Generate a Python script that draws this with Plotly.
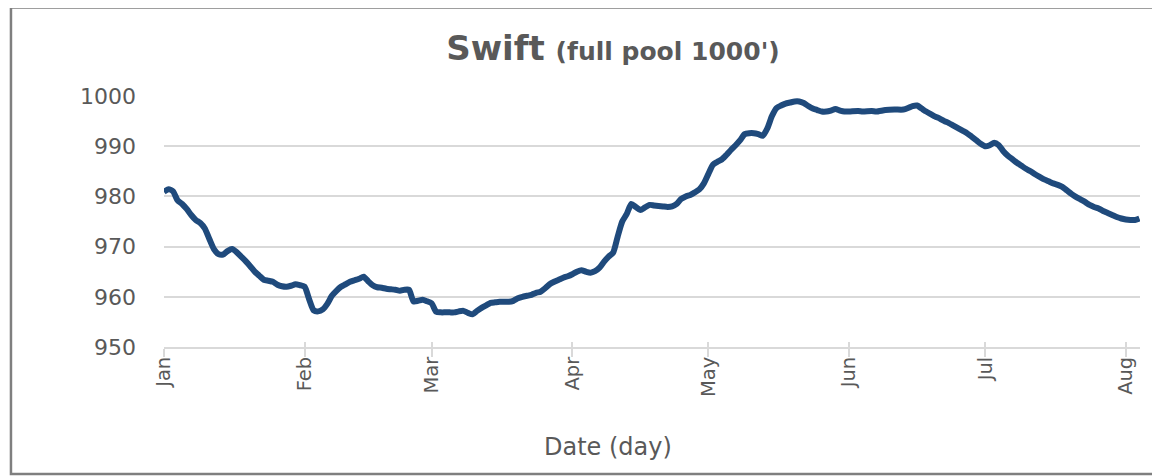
import plotly.graph_objects as go

# ---- data ----
dates = [
    "2023-01-01", "2023-01-02", "2023-01-03", "2023-01-04", "2023-01-05", "2023-01-06",
    "2023-01-07", "2023-01-08", "2023-01-09", "2023-01-10", "2023-01-11", "2023-01-12",
    "2023-01-13", "2023-01-14", "2023-01-15", "2023-01-16", "2023-01-17", "2023-01-18",
    "2023-01-19", "2023-01-20", "2023-01-21", "2023-01-22", "2023-01-23", "2023-01-24",
    "2023-01-25", "2023-01-26", "2023-01-27", "2023-01-28", "2023-01-29", "2023-01-30",
    "2023-01-31", "2023-02-01", "2023-02-02", "2023-02-03", "2023-02-04", "2023-02-05",
    "2023-02-06", "2023-02-07", "2023-02-08", "2023-02-09", "2023-02-10", "2023-02-11",
    "2023-02-12", "2023-02-13", "2023-02-14", "2023-02-15", "2023-02-16", "2023-02-17",
    "2023-02-18", "2023-02-19", "2023-02-20", "2023-02-21", "2023-02-22", "2023-02-23",
    "2023-02-24", "2023-02-25", "2023-02-26", "2023-02-27", "2023-02-28", "2023-03-01",
    "2023-03-02", "2023-03-03", "2023-03-04", "2023-03-05", "2023-03-06", "2023-03-07",
    "2023-03-08", "2023-03-09", "2023-03-10", "2023-03-11", "2023-03-12", "2023-03-13",
    "2023-03-14", "2023-03-15", "2023-03-16", "2023-03-17", "2023-03-18", "2023-03-19",
    "2023-03-20", "2023-03-21", "2023-03-22", "2023-03-23", "2023-03-24", "2023-03-25",
    "2023-03-26", "2023-03-27", "2023-03-28", "2023-03-29", "2023-03-30", "2023-03-31",
    "2023-04-01", "2023-04-02", "2023-04-03", "2023-04-04", "2023-04-05", "2023-04-06",
    "2023-04-07", "2023-04-08", "2023-04-09", "2023-04-10", "2023-04-11", "2023-04-12",
    "2023-04-13", "2023-04-14", "2023-04-15", "2023-04-16", "2023-04-17", "2023-04-18",
    "2023-04-19", "2023-04-20", "2023-04-21", "2023-04-22", "2023-04-23", "2023-04-24",
    "2023-04-25", "2023-04-26", "2023-04-27", "2023-04-28", "2023-04-29", "2023-04-30",
    "2023-05-01", "2023-05-02", "2023-05-03", "2023-05-04", "2023-05-05", "2023-05-06",
    "2023-05-07", "2023-05-08", "2023-05-09", "2023-05-10", "2023-05-11", "2023-05-12",
    "2023-05-13", "2023-05-14", "2023-05-15", "2023-05-16", "2023-05-17", "2023-05-18",
    "2023-05-19", "2023-05-20", "2023-05-21", "2023-05-22", "2023-05-23", "2023-05-24",
    "2023-05-25", "2023-05-26", "2023-05-27", "2023-05-28", "2023-05-29", "2023-05-30",
    "2023-05-31", "2023-06-01", "2023-06-03", "2023-06-04", "2023-06-06", "2023-06-07",
    "2023-06-09", "2023-06-11", "2023-06-13", "2023-06-14", "2023-06-15", "2023-06-16",
    "2023-06-17", "2023-06-18", "2023-06-19", "2023-06-20", "2023-06-21", "2023-06-22",
    "2023-06-23", "2023-06-24", "2023-06-25", "2023-06-26", "2023-06-27", "2023-06-28",
    "2023-06-29", "2023-06-30", "2023-07-01", "2023-07-02", "2023-07-03", "2023-07-04",
    "2023-07-05", "2023-07-06", "2023-07-07", "2023-07-08", "2023-07-09", "2023-07-10",
    "2023-07-11", "2023-07-12", "2023-07-13", "2023-07-14", "2023-07-15", "2023-07-16",
    "2023-07-17", "2023-07-18", "2023-07-19", "2023-07-20", "2023-07-21", "2023-07-22",
    "2023-07-23", "2023-07-24", "2023-07-25", "2023-07-26", "2023-07-27", "2023-07-28",
    "2023-07-29", "2023-07-30", "2023-07-31", "2023-08-01", "2023-08-02", "2023-08-03",
    "2023-08-04",
]

elevation = [
    980.9, 981.4, 981.0, 979.2, 978.5, 977.5,
    976.3, 975.3, 974.7, 973.6, 971.5, 969.5,
    968.5, 968.4, 969.1, 969.5, 968.9, 968.0,
    967.1, 966.1, 965.0, 964.2, 963.4, 963.2,
    963.0, 962.4, 962.1, 962.0, 962.2, 962.5,
    962.3, 962.0, 959.5, 957.3, 957.1, 957.5,
    958.6, 960.2, 961.2, 962.0, 962.5, 963.0,
    963.3, 963.6, 964.0, 963.1, 962.3, 961.9,
    961.8, 961.6, 961.5, 961.4, 961.2, 961.4,
    961.4, 959.1, 959.2, 959.4, 959.1, 958.7,
    957.0, 956.9, 956.9, 956.9, 956.9, 957.1,
    957.2, 956.8, 956.5, 957.2, 957.8, 958.3,
    958.8, 958.9, 959.0, 959.0, 959.0, 959.2,
    959.7, 960.0, 960.2, 960.4, 960.8, 961.0,
    961.7, 962.5, 963.0, 963.4, 963.8, 964.1,
    964.5, 965.0, 965.3, 965.0, 964.8, 965.1,
    965.8, 967.0, 968.0, 968.8, 972.0, 975.0,
    976.5, 978.5, 977.9, 977.3, 977.8, 978.3,
    978.2, 978.1, 978.0, 977.9, 978.0, 978.5,
    979.5, 980.0, 980.3, 980.8, 981.4, 982.6,
    984.5, 986.3, 986.9, 987.4, 988.3, 989.3,
    990.2, 991.2, 992.4, 992.6, 992.6, 992.4,
    992.1, 993.6, 996.0, 997.6, 998.1, 998.5,
    998.7, 998.9, 998.9, 998.6, 998.0, 997.5,
    997.2, 996.9, 996.9, 997.1, 997.4, 997.1,
    996.9, 996.9, 997.0, 996.9, 997.0, 996.9,
    997.2, 997.3, 997.3, 997.6, 998.0, 998.1,
    997.5, 996.9, 996.4, 995.9, 995.5, 995.0,
    994.6, 994.1, 993.6, 993.1, 992.6, 991.9,
    991.2, 990.5, 990.0, 990.2, 990.7, 990.2,
    989.0, 988.1, 987.4, 986.7, 986.1, 985.5,
    985.0, 984.4, 983.9, 983.4, 983.0, 982.6,
    982.3, 981.9, 981.2, 980.5, 979.9, 979.4,
    978.9, 978.3, 977.9, 977.6, 977.1, 976.7,
    976.3, 975.9, 975.6, 975.4, 975.3, 975.3,
    975.6,
]

month_ticks = ["2023-01-01", "2023-02-01", "2023-03-01", "2023-04-01",
               "2023-05-01", "2023-06-01", "2023-07-01", "2023-08-01"]
month_labels = ["Jan", "Feb", "Mar", "Apr", "May", "Jun", "Jul", "Aug"]
y_ticks = [950, 960, 970, 980, 990, 1000]

title_main = "Swift"
title_sub = "(full pool 1000')"
x_title = "Date (day)"

# ---- styling ----
FONT = "DejaVu Sans"
TXT = "#595959"
GRID = "#d9d9d9"
LINE = "#1f4a7c"
x_range = ["2023-01-01", "2023-08-04 03:00"]

W, H = 1152, 468  # page body has an 8px margin in the viewer

fig = go.Figure()
fig.add_trace(go.Scatter(
    x=dates, y=elevation, mode="lines",
    line=dict(color=LINE, width=6, shape="spline", smoothing=0.6),
    showlegend=False, hoverinfo="x+y",
))
# invisible twin on the overlay axis so that its inner tick marks are drawn
fig.add_trace(go.Scatter(
    x=dates, y=elevation, mode="lines", xaxis="x2",
    line=dict(color="rgba(0,0,0,0)", width=0),
    showlegend=False, hoverinfo="skip",
))

fig.update_layout(
    width=W, height=H,
    margin=dict(l=156, r=20, t=88, b=129, pad=0),
    paper_bgcolor="white", plot_bgcolor="white",
    font=dict(family=FONT, color=TXT),
    title=dict(
        text=f"<b>{title_main}</b> <b><span style='font-size:25px'>{title_sub}</span></b>",
        font=dict(family=FONT, size=34, color=TXT),
        xref="paper", x=0.46, xanchor="center",
        yref="container", y=1 - 40 / H, yanchor="middle",
    ),
    xaxis=dict(
        type="date", range=x_range,
        tickvals=month_ticks, ticktext=month_labels,
        tickangle=-90, tickfont=dict(family=FONT, size=19.5, color=TXT),
        ticks="outside", ticklen=8, tickwidth=2, tickcolor=GRID,
        showgrid=False, showline=True, linecolor=GRID, linewidth=2,
        zeroline=False, ticklabelstandoff=-8,
    ),
    xaxis2=dict(
        type="date", range=x_range, overlaying="x", anchor="y", side="bottom",
        tickvals=month_ticks, showticklabels=False,
        ticks="inside", ticklen=5, tickwidth=2, tickcolor=GRID,
        showgrid=False, showline=False, zeroline=False,
    ),
    yaxis=dict(
        range=[950, 1000], tickvals=y_ticks,
        tickfont=dict(family=FONT, size=22, color=TXT),
        showgrid=True, gridcolor=GRID, gridwidth=2,
        showline=False, zeroline=False, ticks="",
        ticklabelstandoff=27,
    ),
    annotations=[dict(
        text=x_title, xref="paper", yref="paper", x=0.455, y=-0.398,
        xanchor="center", yanchor="middle", showarrow=False,
        font=dict(family=FONT, size=24, color=TXT),
    )],
    shapes=[dict(
        type="rect", xref="paper", yref="paper",
        x0=-0.1568, x1=1.04, y0=-0.506, y1=1.3526,
        line=dict(color="#7f7f7f", width=2.5), fillcolor="rgba(0,0,0,0)",
        layer="below",
    )],
)

fig.write_html("out.html")
